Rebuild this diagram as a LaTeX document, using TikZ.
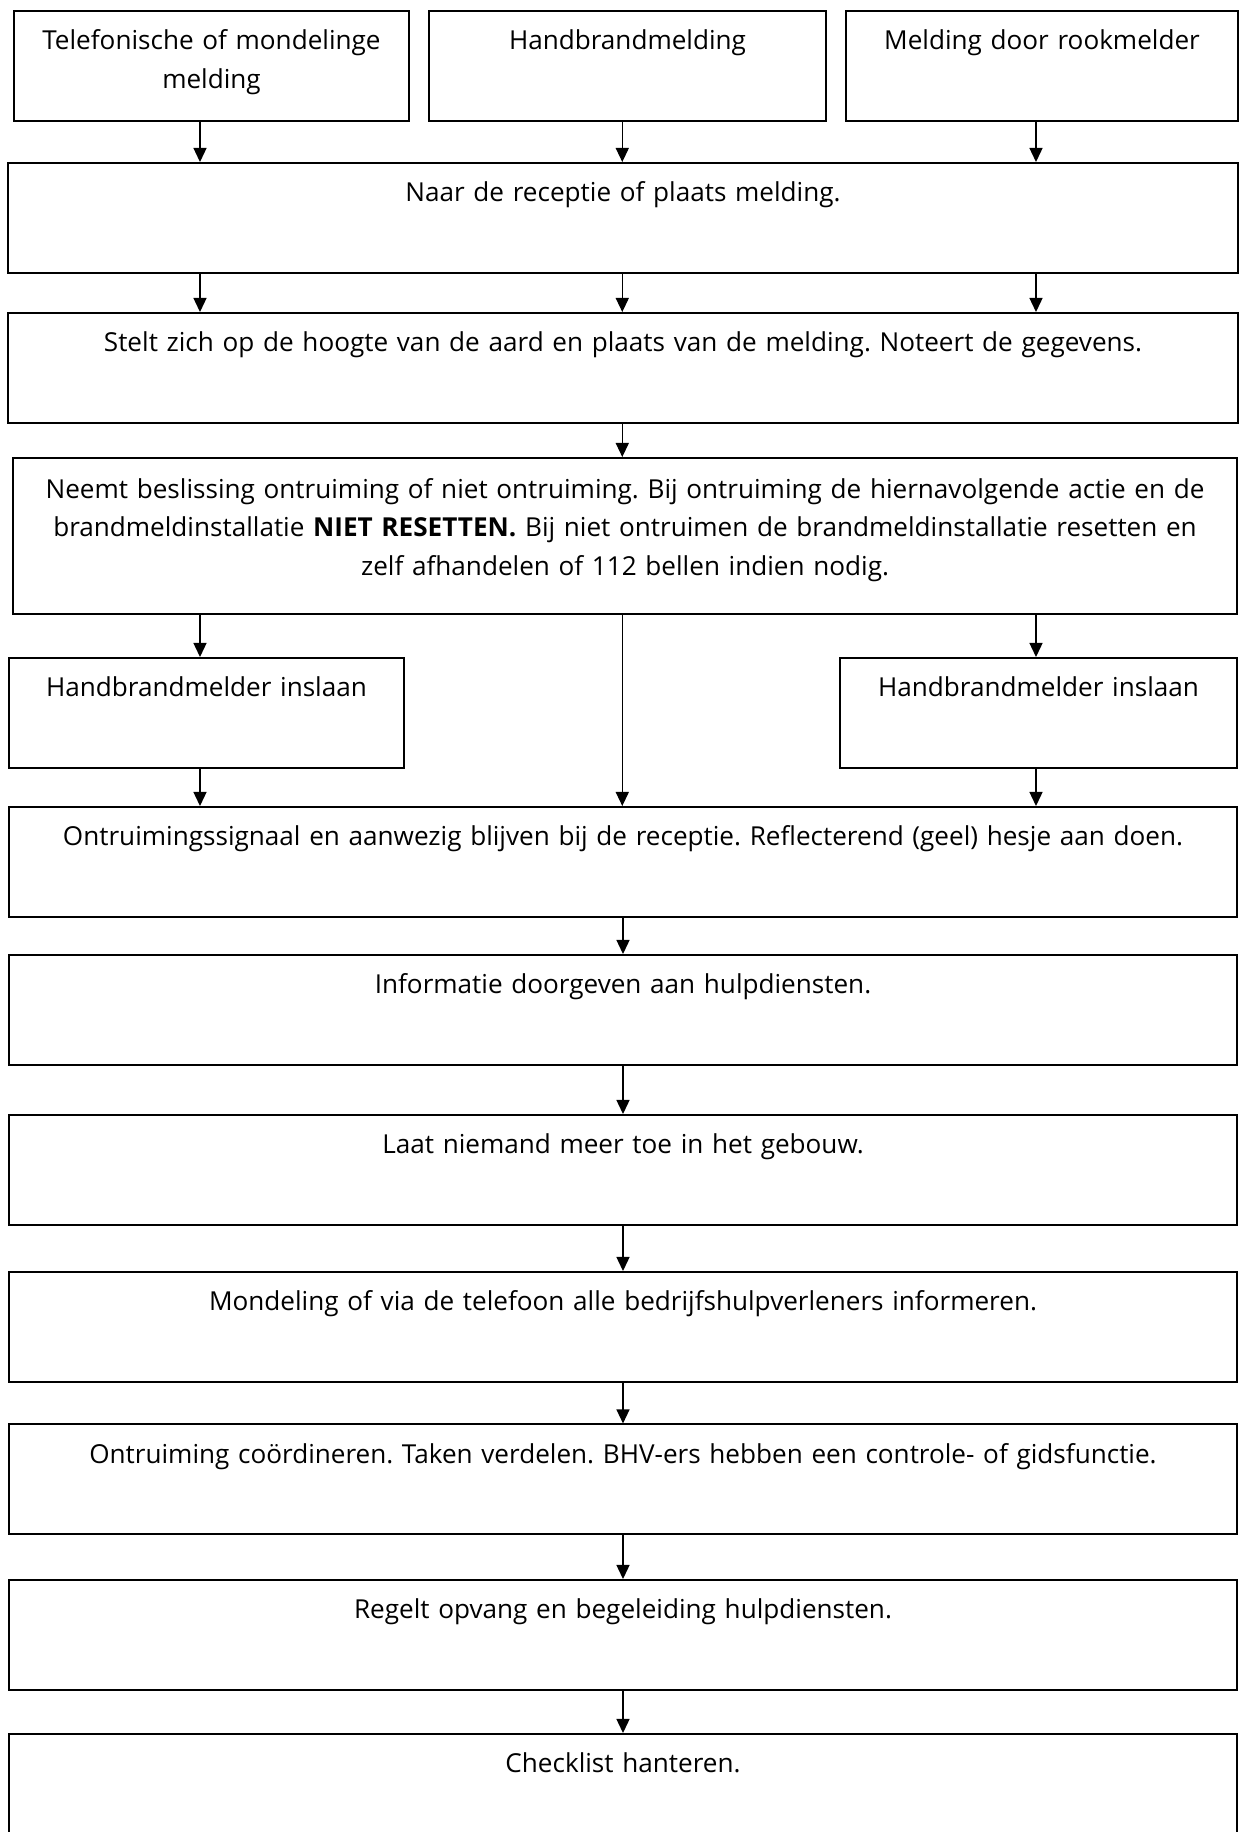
\documentclass[tikz,border=0pt]{standalone}
\usepackage{fontspec}
\setmainfont{Open Sans}[Ligatures=NoCommon]
\usetikzlibrary{arrows.meta,positioning,calc}
\tikzset{
  stap/.style={draw=black,line width=1pt,align=center,inner xsep=0pt,
               inner ysep=0pt,font=\fontsize{13}{19.4}\selectfont,
               text height=0.68cm,text depth=1.245cm},
  smalstap/.style={stap,text width=6.6cm,minimum width=6.91cm},
  breedstap/.style={stap,text width=21.2cm,minimum width=21.49cm},
  pijl/.style={-{Triangle[length=7pt,width=6.5pt]},line width=0.65pt,
               draw=black}
}
\frenchspacing

\begin{document}
\begin{tikzpicture}[x=1cm,y=1cm]
    \path[use as bounding box] (0,0) rectangle (21.6825,-32.06);
    \coordinate (colL) at (3.50,0);
    \coordinate (colM) at (10.89,0);
    \coordinate (colR) at (18.13,0);

    % meldingen
    \node[smalstap] (tel) at (3.701,-1.155) {Telefonische of mondelinge\\melding};
    \node[smalstap,minimum width=6.95cm] (hand) at (10.981,-1.155) {Handbrandmelding};
    \node[smalstap,minimum width=6.86cm] (rook) at (18.235,-1.155) {Melding door rookmelder};

    \node[breedstap,minimum width=21.525cm] (naar) at (10.9025,-3.815)
      {Naar de receptie of plaats melding.};
    \node[breedstap,minimum width=21.525cm] (stelt) at (10.9025,-6.44)
      {Stelt zich op de hoogte van de aard en plaats van de melding. Noteert de gegevens.};
    \node[breedstap,minimum width=21.42cm,text height=0.70cm,text depth=2.03cm] (neemt) at (10.9375,-9.38)
      {Neemt beslissing ontruiming of niet ontruiming. Bij ontruiming de hiernavolgende actie en de\\
       brandmeldinstallatie \textbf{NIET RESETTEN.} Bij niet ontruimen de brandmeldinstallatie resetten en\\
       zelf afhandelen of 112 bellen indien nodig.};

    \node[smalstap] (hbl) at (3.614,-12.4775) {Handbrandmelder inslaan};
    \node[smalstap,minimum width=6.95cm] (hbr) at (18.174,-12.4775) {Handbrandmelder inslaan};

    % ontruiming
    \node[breedstap] (ontr) at (10.9025,-15.085)
      {Ontruimingssignaal en aanwezig blijven bij de receptie. Reflecterend (geel) hesje aan doen.};
    \node[breedstap] (info) at (10.9025,-17.675) {Informatie doorgeven aan hulpdiensten.};
    \node[breedstap] (laat) at (10.9025,-20.475) {Laat niemand meer toe in het gebouw.};
    \node[breedstap] (mond) at (10.9025,-23.2225)
      {Mondeling of via de telefoon alle bedrijfshulpverleners informeren.};
    \node[breedstap] (coord) at (10.9025,-25.89)
      {Ontruiming coördineren. Taken verdelen. BHV-ers hebben een controle- of gidsfunctie.};
    \node[breedstap] (regel) at (10.9025,-28.6125) {Regelt opvang en begeleiding hulpdiensten.};
    \node[breedstap] (check) at (10.9025,-31.3075) {Checklist hanteren.};

    % pijlen
    \draw[pijl] (tel.south -| colL) -- (naar.north -| colL);
    \draw[pijl] (hand.south -| colM) -- (naar.north -| colM);
    \draw[pijl] (rook.south -| colR) -- (naar.north -| colR);
    \draw[pijl] (naar.south -| colL) -- (stelt.north -| colL);
    \draw[pijl] (naar.south -| colM) -- (stelt.north -| colM);
    \draw[pijl] (naar.south -| colR) -- (stelt.north -| colR);
    \draw[pijl] (stelt.south -| colM) -- (neemt.north -| colM);
    \draw[pijl] (neemt.south -| colL) -- (hbl.north -| colL);
    \draw[pijl] (neemt.south -| colR) -- (hbr.north -| colR);
    \draw[pijl] (hbl.south -| colL) -- (ontr.north -| colL);
    \draw[pijl] (hbr.south -| colR) -- (ontr.north -| colR);
    \draw[pijl] (neemt.south -| colM) -- (ontr.north -| colM);
    \draw[pijl] (ontr) -- (info);
    \draw[pijl] (info) -- (laat);
    \draw[pijl] (laat) -- (mond);
    \draw[pijl] (mond) -- (coord);
    \draw[pijl] (coord) -- (regel);
    \draw[pijl] (regel) -- (check);
\end{tikzpicture}
\end{document}
